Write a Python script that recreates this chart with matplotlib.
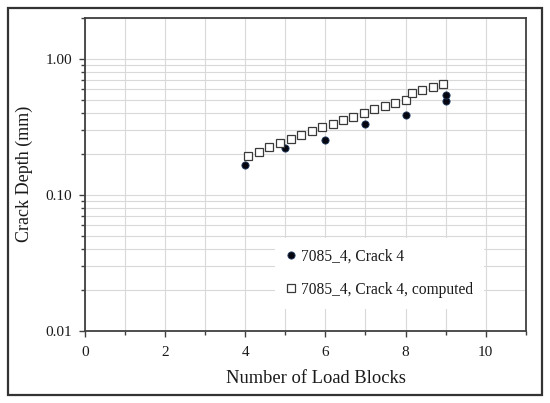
import matplotlib
matplotlib.use("Agg")
import matplotlib.pyplot as plt
from matplotlib.patches import Rectangle
from matplotlib.ticker import MultipleLocator, LogLocator, FixedLocator, NullFormatter

plt.rcParams['font.family'] = ['Liberation Serif', 'DejaVu Serif']

# measured crack depth
meas_blocks = [4, 5, 6, 7, 8, 9, 9]
meas_depth = [0.165, 0.221, 0.251, 0.330, 0.383, 0.490, 0.542]

# computed crack depth
comp_blocks = [4.08, 4.34, 4.60, 4.87, 5.13, 5.40, 5.66, 5.92, 6.18, 6.44,
               6.70, 6.97, 7.22, 7.48, 7.75, 8.01, 8.15, 8.42, 8.68, 8.94]
comp_depth = [0.193, 0.207, 0.223, 0.240, 0.257, 0.275, 0.292, 0.313, 0.332, 0.354,
              0.375, 0.400, 0.424, 0.450, 0.473, 0.501, 0.557, 0.586, 0.620, 0.656]

label_meas = "7085_4, Crack 4"
label_comp = "7085_4, Crack 4, computed"
x_ticks = [0, 2, 4, 6, 8, 10]
y_ticks = [0.01, 0.10, 1.00]
y_ticklabels = ["0.01", "0.10", "1.00"]

W, H = 550, 403
fig = plt.figure(figsize=(W / 100, H / 100), dpi=100)
ax = fig.add_axes([85 / W, 1 - 331 / H, (525.7 - 85) / W, (331 - 17.7) / H])

spine_c = '#404040'
grid_c = '#d9d9d9'

ax.set_yscale('log')
ax.set_xlim(0, 11)
ax.set_ylim(0.01, 2.0)

ax.xaxis.set_major_locator(FixedLocator(x_ticks))
ax.xaxis.set_minor_locator(MultipleLocator(1))
ax.yaxis.set_major_locator(FixedLocator(y_ticks))
ax.set_yticklabels(y_ticklabels)
ax.yaxis.set_minor_locator(LogLocator(base=10, subs=range(2, 10)))
ax.yaxis.set_minor_formatter(NullFormatter())

ax.grid(True, which='both', color=grid_c, linewidth=0.8, zorder=0)
ax.set_axisbelow(True)

for s in ax.spines.values():
    s.set_color(spine_c)
    s.set_linewidth(1.3)

ax.tick_params(which='both', direction='out', color=spine_c, width=1.0,
               labelsize=11, labelcolor='#1a1a1a')
ax.tick_params(axis='x', which='major', length=4, pad=7)
ax.tick_params(axis='x', which='minor', length=3)
ax.tick_params(axis='y', which='major', length=4, pad=5)
ax.tick_params(axis='y', which='minor', length=3)
ax.tick_params(top=False, right=False, which='both')

ax.plot(meas_blocks, meas_depth, linestyle='none', marker='o', markersize=5.2,
        markerfacecolor='#05060f', markeredgecolor='#1f3a60', markeredgewidth=0.6,
        label=label_meas, zorder=3)
ax.plot(comp_blocks, comp_depth, linestyle='none', marker='s', markersize=5.6,
        markerfacecolor='white', markeredgecolor='#3a3a3a', markeredgewidth=0.9,
        label=label_comp, zorder=3)

ax.set_xlabel("Number of Load Blocks", fontsize=13.3, color='#1a1a1a')
ax.xaxis.set_label_coords(0.525, -0.125)
ax.set_ylabel("Crack Depth (mm)", fontsize=13, color='#1a1a1a')
ax.yaxis.set_label_coords(-0.118, 0.5)

leg = ax.legend(loc='upper left', bbox_to_anchor=((275 - 85) / 440.7, 1 - (238 - 17.7) / 313.3),
                fontsize=11.2, frameon=True, fancybox=False, facecolor='white',
                edgecolor='none', framealpha=1, numpoints=1, handlelength=0.6,
                handletextpad=0.4, labelspacing=1.08, borderpad=0.7, borderaxespad=0)
for t in leg.get_texts():
    t.set_color('#1a1a1a')

fig.patches.append(Rectangle((8 / W, 1 - 395 / H), (542 - 8) / W, (395 - 8) / H,
                             transform=fig.transFigure, fill=False,
                             edgecolor='#333333', linewidth=1.6))

fig.savefig("out.png", dpi=100, facecolor='white')
